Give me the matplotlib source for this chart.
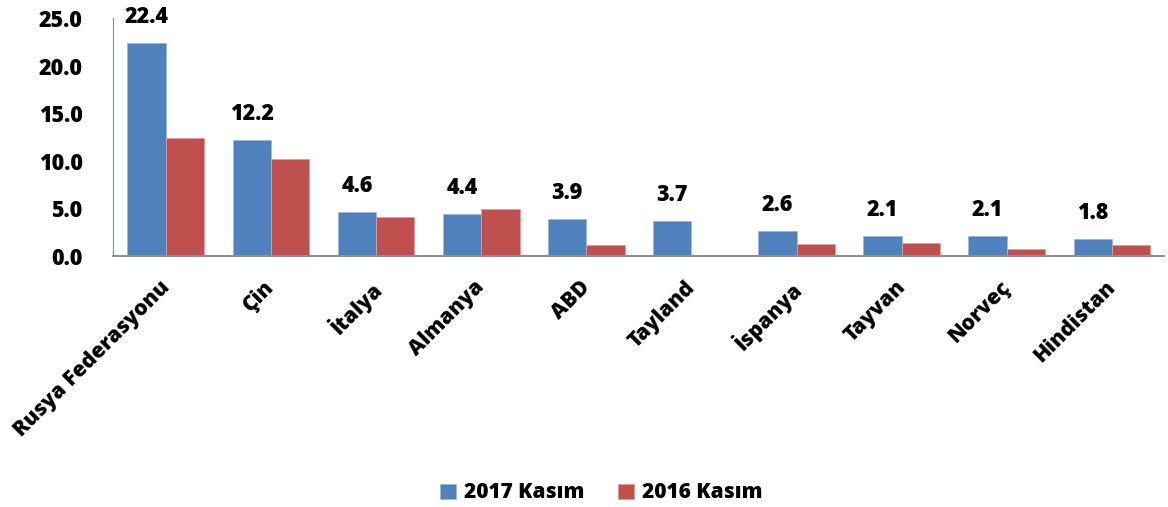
import numpy as np
import matplotlib.pyplot as plt
import matplotlib.transforms as mtransforms

countries = ["Rusya Federasyonu", "Çin", "İtalya", "Almanya", "ABD",
             "Tayland", "İspanya", "Tayvan", "Norveç", "Hindistan"]
val_2017 = [22.4, 12.2, 4.6, 4.4, 3.9, 3.7, 2.6, 2.1, 2.1, 1.8]
val_2016 = [12.4, 10.2, 4.1, 4.9, 1.2, 0.15, 1.25, 1.4, 0.7, 1.2]

BLUE = "#4F81BD"
RED = "#C0504D"

plt.rcParams["font.family"] = ["Open Sans", "DejaVu Sans"]
plt.rcParams["font.weight"] = "heavy"

fig = plt.figure(figsize=(11.68, 5.07), dpi=100)
ax = fig.add_axes([0.097, 0.495, 0.9, 0.469])

x = np.arange(len(countries))
w = 0.365
ax.bar(x - w / 2, val_2017, w, color=BLUE, edgecolor="#9DB9DF", linewidth=0.6, label="2017 Kasım")
ax.bar(x + w / 2, val_2016, w, color=RED, edgecolor="#E39C9A", linewidth=0.6, label="2016 Kasım")

for xi, v in zip(x, val_2017):
    ax.text(xi - w / 2, v + 1.5, f"{v:.1f}", ha="center", va="bottom",
            fontsize=15.5, fontweight="heavy")

ax.set_xlim(-0.5, len(countries) - 0.5)
ax.set_ylim(0, 25)
ax.set_yticks(np.arange(0, 25.1, 5))
ax.set_yticklabels([f"{t:.1f}" for t in np.arange(0, 25.1, 5)], fontsize=15.5, fontweight="heavy")
ax.set_xticks(x)
ax.set_xticklabels(countries, rotation=45, ha="right", rotation_mode="anchor",
                   fontsize=15.2, fontweight="heavy")
ax.tick_params(axis="y", length=0, pad=22)
ax.tick_params(axis="x", length=0, pad=15)
shift = mtransforms.ScaledTranslation(-7 / 100, 0, fig.dpi_scale_trans)
for lbl in ax.get_xticklabels():
    lbl.set_transform(lbl.get_transform() + shift)
ax.spines[["top", "right"]].set_visible(False)
ax.spines["left"].set_color("#909090")
ax.spines["bottom"].set_color("#909090")
ax.spines["bottom"].set_linewidth(1.5)

fig.legend(loc="lower center", bbox_to_anchor=(0.515, -0.03), ncol=2, frameon=False,
           handlelength=0.75, handleheight=0.75, columnspacing=1.6,
           handletextpad=0.4, prop={"weight": "heavy", "size": 15})

plt.savefig("out.png", dpi=100)
